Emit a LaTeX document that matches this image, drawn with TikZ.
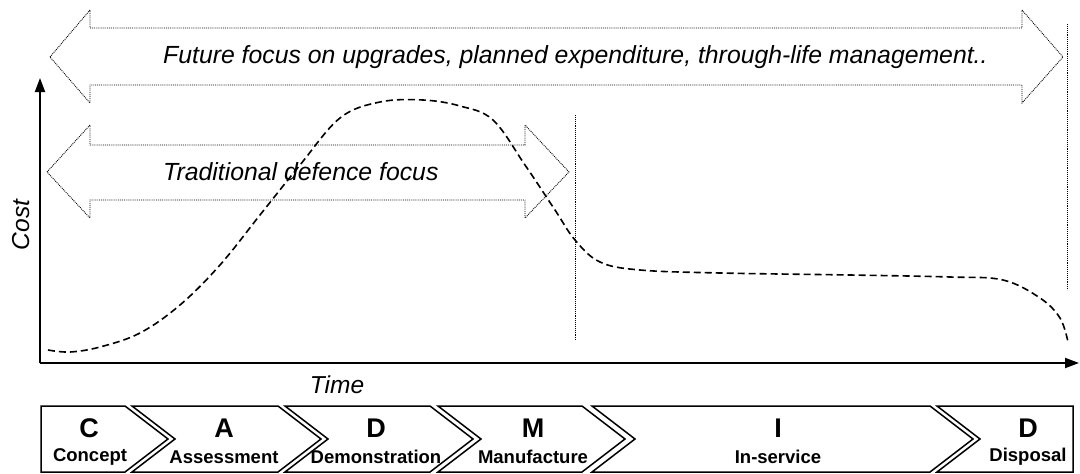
\documentclass[tikz,border=0pt]{standalone}
\usepackage{fontspec}
\setmainfont{Liberation Sans}
\usetikzlibrary{arrows.meta}

\tikzset{
  focus/.style={draw, densely dotted, line width=0.9pt},
  focustext/.style={anchor=west, inner sep=0pt, font=\fontsize{24.8}{28}\selectfont\itshape},
  axislabel/.style={inner sep=0pt, font=\fontsize{24.5}{28}\selectfont\itshape},
  axis/.style={line width=2pt, -{Triangle[length=14pt,width=10pt]}},
  costcurve/.style={line width=1.6pt, dash pattern=on 7pt off 4pt},
  marker/.style={densely dotted, line width=0.9pt},
  phase/.style={draw, line width=1.5pt, line join=miter},
  letter/.style={inner sep=0pt, font=\fontsize{27}{30}\selectfont\bfseries},
  phasename/.style={inner sep=0pt, font=\fontsize{18.5}{20}\selectfont\bfseries},
}

\begin{document}
\begin{tikzpicture}[x=1pt, y=-1pt]
    \useasboundingbox (0,0) rectangle (1080,474);

    % focus arrows
    \draw[focus] (50,57) -- (90,10) -- (90,28) -- (1022,28) -- (1022,10) -- (1063,57)
                 -- (1022,103) -- (1022,85) -- (90,85) -- (90,103) -- cycle;
    \node[focustext] (future) at (163,57) {Future focus on upgrades, planned expenditure, through-life management..};

    \draw[focus] (47,172) -- (90,125) -- (90,145) -- (525,145) -- (525,125) -- (569,172)
                 -- (525,218) -- (525,200) -- (90,200) -- (90,218) -- cycle;
    \node[focustext] (traditional) at (163,172) {Traditional defence focus};

    % phase markers
    \draw[marker] (575,115) -- (575,340);
    \draw[marker] (1067,24) -- (1067,290);

    % axes
    \coordinate (origin) at (40,363);
    \coordinate (ytop) at (40,78);
    \coordinate (xend) at (1079,363);
    \draw[axis] (origin) -- (ytop);
    \draw[axis] (origin) -- (xend);
    \node[axislabel, rotate=90] (cost) at (21,225) {Cost};
    \node[axislabel] (time) at (337,385) {Time};

    % cost curve
    \draw[costcurve] plot[smooth, tension=0.6] coordinates {
        (48,350) (70,352) (100,347) (140,333) (180,305) (220,265) (260,215)
        (300,165) (340,118) (380,102) (423,100) (460,106) (493,120) (525,165)
        (555,210) (575,240) (600,262) (640,270) (720,273) (850,275) (950,277)
        (1003,280) (1040,298) (1060,318) (1068,342)};

    % phases
    \draw[phase] (41,406) -- (125,406) -- (168,439) -- (125,472) -- (41,472) -- cycle;
    \draw[phase] (132,406) -- (278,406) -- (321,439) -- (278,472) -- (132,472) -- (175,439) -- cycle;
    \draw[phase] (285,406) -- (430,406) -- (473,439) -- (430,472) -- (285,472) -- (328,439) -- cycle;
    \draw[phase] (438,406) -- (582,406) -- (625,439) -- (582,472) -- (438,472) -- (481,439) -- cycle;
    \draw[phase] (592,406) -- (930,406) -- (973,439) -- (930,472) -- (592,472) -- (635,439) -- cycle;
    \draw[phase] (937,406) -- (1073,406) -- (1073,472) -- (937,472) -- (980,439) -- cycle;

    \node[letter] (c) at (89,428) {C};
    \node[phasename] (concept) at (90,457) {Concept};
    \node[letter] (a) at (224,428) {A};
    \node[phasename] (assessment) at (224,457) {Assessment};
    \node[letter] (d) at (376,428) {D};
    \node[phasename] (demonstration) at (376,457) {Demonstration};
    \node[letter] (m) at (533,428) {M};
    \node[phasename] (manufacture) at (533,457) {Manufacture};
    \node[letter] (i) at (778,428) {I};
    \node[phasename] (inservice) at (778,457) {In-service};
    \node[letter] (d2) at (1028,428) {D};
    \node[phasename] (disposal) at (1028,457) {Disposal};
\end{tikzpicture}
\end{document}
